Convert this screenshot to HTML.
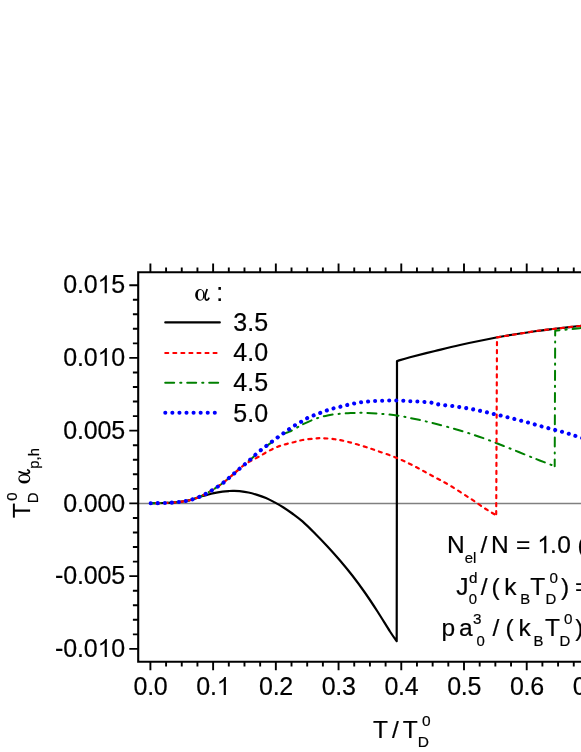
<!DOCTYPE html>
<html><head><meta charset="utf-8"><title>chart</title>
<style>
html,body{margin:0;padding:0;background:#fff;overflow:hidden;}
svg{display:block;will-change:transform;}
text{font-family:"Liberation Sans",sans-serif;fill:#000;stroke:#000;stroke-width:0.2px;}
text.sym{font-family:"Liberation Serif",serif;}
</style></head>
<body>
<svg width="581" height="752" viewBox="0 0 581 752">
<rect x="0" y="0" width="581" height="752" fill="#ffffff"/>
<path d="M138.2 503.5 H600" stroke="#808080" stroke-width="1.35" fill="none"/>
<path d="M150.70 503.30 C152.98 503.25 160.90 503.12 164.40 503.00 C167.90 502.88 169.28 502.77 171.70 502.60 C174.12 502.43 176.55 502.27 178.90 502.00 C181.25 501.73 183.57 501.43 185.80 501.00 C188.03 500.57 190.12 500.05 192.30 499.40 C194.48 498.75 196.75 497.77 198.90 497.10 C201.05 496.43 202.72 496.07 205.20 495.40 C207.68 494.73 210.92 493.73 213.80 493.10 C216.68 492.47 219.92 491.95 222.50 491.60 C225.08 491.25 227.42 491.12 229.30 491.00 C231.18 490.88 232.08 490.87 233.80 490.90 C235.52 490.93 237.17 490.93 239.60 491.20 C242.03 491.47 245.47 491.88 248.40 492.50 C251.33 493.12 254.27 493.98 257.20 494.90 C260.13 495.82 263.08 496.75 266.00 498.00 C268.92 499.25 271.78 500.82 274.70 502.40 C277.62 503.98 280.57 505.65 283.50 507.50 C286.43 509.35 289.13 511.18 292.30 513.50 C295.47 515.82 298.72 518.07 302.50 521.40 C306.28 524.73 310.83 529.32 315.00 533.50 C319.17 537.68 323.33 542.00 327.50 546.50 C331.67 551.00 335.83 555.62 340.00 560.50 C344.17 565.38 348.33 570.38 352.50 575.75 C356.67 581.12 360.83 586.79 365.00 592.75 C369.17 598.71 373.33 605.04 377.50 611.50 C381.67 617.96 386.80 626.55 390.00 631.50 C393.20 636.45 395.58 639.58 396.70 641.20 L397.00 361.00 C399.17 360.38 403.67 358.97 410.00 357.30 C416.33 355.63 426.67 353.05 435.00 351.00 C443.33 348.95 449.58 347.29 460.00 345.00 C470.42 342.71 485.00 339.54 497.50 337.25 C510.00 334.96 525.42 332.67 535.00 331.25 C544.58 329.83 547.58 329.62 555.00 328.75 C562.42 327.88 572.00 326.79 579.50 326.00 C587.00 325.21 596.58 324.33 600.00 324.00" stroke="#000" stroke-width="2.2" fill="none" stroke-linejoin="round"/>
<g stroke="#008000" stroke-width="2" fill="none" stroke-dasharray="9 6 1.2 5.8" stroke-linecap="round" stroke-linejoin="round"><path d="M150.70 503.30 C152.98 503.25 160.90 503.12 164.40 503.00 C167.90 502.88 169.28 502.77 171.70 502.60 C174.12 502.43 176.55 502.27 178.90 502.00 C181.25 501.73 183.57 501.43 185.80 501.00 C188.03 500.57 190.12 500.05 192.30 499.40 C194.48 498.75 196.75 497.98 198.90 497.10 C201.05 496.22 203.13 495.17 205.20 494.10 C207.27 493.03 209.23 491.93 211.30 490.70 C213.37 489.47 215.53 488.08 217.60 486.70 C219.67 485.32 221.73 483.92 223.70 482.40 C225.67 480.88 227.60 479.13 229.40 477.60 C231.20 476.07 232.85 474.63 234.50 473.20 C236.15 471.77 237.63 470.43 239.30 469.00 C240.97 467.57 242.62 466.18 244.50 464.60 C246.38 463.02 247.75 461.97 250.60 459.50 C253.45 457.03 257.90 452.80 261.60 449.80 C265.30 446.80 269.10 444.13 272.80 441.50 C276.50 438.87 281.03 435.63 283.80 434.00 C286.57 432.37 287.25 432.73 289.40 431.70 C291.55 430.67 294.52 429.00 296.70 427.80 C298.88 426.60 299.45 425.97 302.50 424.50 C305.55 423.03 310.83 420.50 315.00 419.00 C319.17 417.50 323.33 416.38 327.50 415.50 C331.67 414.62 335.83 414.17 340.00 413.75 C344.17 413.33 348.75 413.17 352.50 413.00 C356.25 412.83 358.33 412.67 362.50 412.75 C366.67 412.83 371.75 413.04 377.50 413.50 C383.25 413.96 390.75 414.58 397.00 415.50 C403.25 416.42 408.75 417.67 415.00 419.00 C421.25 420.33 427.00 421.58 434.50 423.50 C442.00 425.42 451.58 427.96 460.00 430.50 C468.42 433.04 476.67 435.75 485.00 438.75 C493.33 441.75 501.67 445.19 510.00 448.50 C518.33 451.81 527.55 455.65 535.00 458.60 C542.45 461.55 551.42 464.93 554.70 466.20" stroke-dashoffset="21.14"/><path d="M554.7 466.2 L555.2 330.73 L555.30 330.72 C559.33 330.30 572.05 328.95 579.50 328.20 C586.95 327.45 596.58 326.53 600.00 326.20" stroke-dasharray="9.1 6 1.2 5.9" stroke-dashoffset="2.5"/></g>
<g stroke="#ff0000" stroke-width="2.15" fill="none" stroke-dasharray="3.1 4.95" stroke-linecap="round" stroke-linejoin="round"><path d="M150.70 503.30 C152.98 503.25 160.90 503.12 164.40 503.00 C167.90 502.88 169.28 502.77 171.70 502.60 C174.12 502.43 176.55 502.27 178.90 502.00 C181.25 501.73 183.57 501.43 185.80 501.00 C188.03 500.57 190.12 500.05 192.30 499.40 C194.48 498.75 196.75 497.98 198.90 497.10 C201.05 496.22 203.13 495.17 205.20 494.10 C207.27 493.03 209.23 491.93 211.30 490.70 C213.37 489.47 215.53 488.08 217.60 486.70 C219.67 485.32 221.73 483.92 223.70 482.40 C225.67 480.88 227.60 479.13 229.40 477.60 C231.20 476.07 232.85 474.63 234.50 473.20 C236.15 471.77 237.63 470.43 239.30 469.00 C240.97 467.57 242.62 465.93 244.50 464.60 C246.38 463.27 248.25 462.30 250.60 461.00 C252.95 459.70 255.80 458.35 258.60 456.80 C261.40 455.25 264.47 453.28 267.40 451.70 C270.33 450.12 273.27 448.52 276.20 447.30 C279.13 446.08 282.07 445.25 285.00 444.40 C287.93 443.55 290.88 442.93 293.80 442.20 C296.72 441.47 298.97 440.62 302.50 440.00 C306.03 439.38 311.67 438.79 315.00 438.50 C318.33 438.21 319.17 438.12 322.50 438.25 C325.83 438.38 330.83 438.67 335.00 439.25 C339.17 439.83 342.92 440.62 347.50 441.75 C352.08 442.88 357.50 444.46 362.50 446.00 C367.50 447.54 371.75 449.00 377.50 451.00 C383.25 453.00 390.75 455.42 397.00 458.00 C403.25 460.58 409.08 463.50 415.00 466.50 C420.92 469.50 426.67 472.83 432.50 476.00 C438.33 479.17 443.75 481.78 450.00 485.50 C456.25 489.22 464.03 494.38 470.00 498.30 C475.97 502.22 481.43 506.17 485.80 509.00 C490.17 511.83 494.47 514.25 496.20 515.30" stroke-dashoffset="2.60"/><path d="M496.2 515.3 L497.00 337.35 C503.33 336.34 525.33 332.68 535.00 331.25 C544.67 329.82 547.58 329.62 555.00 328.75 C562.42 327.88 572.00 326.79 579.50 326.00 C587.00 325.21 596.58 324.33 600.00 324.00" stroke-dashoffset="7"/></g>
<path d="M150.70 503.30 C152.98 503.25 160.90 503.12 164.40 503.00 C167.90 502.88 169.28 502.77 171.70 502.60 C174.12 502.43 176.55 502.27 178.90 502.00 C181.25 501.73 183.57 501.43 185.80 501.00 C188.03 500.57 190.12 500.05 192.30 499.40 C194.48 498.75 196.75 497.98 198.90 497.10 C201.05 496.22 203.13 495.17 205.20 494.10 C207.27 493.03 209.23 491.93 211.30 490.70 C213.37 489.47 215.53 488.08 217.60 486.70 C219.67 485.32 221.73 483.92 223.70 482.40 C225.67 480.88 227.60 479.13 229.40 477.60 C231.20 476.07 232.85 474.63 234.50 473.20 C236.15 471.77 237.63 470.43 239.30 469.00 C240.97 467.57 242.62 466.22 244.50 464.60 C246.38 462.98 248.68 461.02 250.60 459.30 C252.52 457.58 254.17 455.93 256.00 454.30 C257.83 452.67 259.75 450.98 261.60 449.50 C263.45 448.02 265.23 446.83 267.10 445.40 C268.97 443.97 270.92 442.33 272.80 440.90 C274.68 439.47 276.57 438.12 278.40 436.80 C280.23 435.48 282.07 434.22 283.80 433.00 C285.53 431.78 286.90 430.80 288.80 429.50 C290.70 428.20 293.12 426.49 295.20 425.20 C297.27 423.91 299.20 422.95 301.25 421.75 C303.30 420.55 305.38 419.08 307.50 418.00 C309.62 416.92 311.92 416.08 314.00 415.25 C316.08 414.42 317.88 413.79 320.00 413.00 C322.12 412.21 324.58 411.25 326.75 410.50 C328.92 409.75 330.79 409.12 333.00 408.50 C335.21 407.88 337.67 407.33 340.00 406.75 C342.33 406.17 344.67 405.54 347.00 405.00 C349.33 404.46 351.62 403.96 354.00 403.50 C356.38 403.04 358.88 402.58 361.25 402.25 C363.62 401.92 365.92 401.71 368.25 401.50 C370.58 401.29 372.88 401.12 375.25 401.00 C377.62 400.88 380.12 400.83 382.50 400.75 C384.88 400.67 387.08 400.54 389.50 400.50 C391.92 400.46 394.58 400.46 397.00 400.50 C399.42 400.54 401.67 400.62 404.00 400.75 C406.33 400.88 408.67 401.12 411.00 401.25 C413.33 401.38 415.67 401.38 418.00 401.50 C420.33 401.62 422.67 401.79 425.00 402.00 C427.33 402.21 429.92 402.38 432.00 402.75 C434.08 403.12 435.42 403.83 437.50 404.25 C439.58 404.67 442.08 404.96 444.50 405.25 C446.92 405.54 449.62 405.71 452.00 406.00 C454.38 406.29 456.50 406.67 458.75 407.00 C461.00 407.33 463.21 407.62 465.50 408.00 C467.79 408.38 470.17 408.79 472.50 409.25 C474.83 409.71 477.17 410.25 479.50 410.75 C481.83 411.25 484.12 411.71 486.50 412.25 C488.88 412.79 491.42 413.46 493.75 414.00 C496.08 414.54 498.21 414.96 500.50 415.50 C502.79 416.04 505.17 416.67 507.50 417.25 C509.83 417.83 512.21 418.42 514.50 419.00 C516.79 419.58 519.00 420.17 521.25 420.75 C523.50 421.33 525.71 421.88 528.00 422.50 C530.29 423.12 532.67 423.83 535.00 424.50 C537.33 425.17 539.71 425.88 542.00 426.50 C544.29 427.12 546.50 427.67 548.75 428.25 C551.00 428.83 553.29 429.42 555.50 430.00 C557.71 430.58 559.79 431.12 562.00 431.75 C564.21 432.38 566.46 433.04 568.75 433.75 C571.04 434.46 572.21 434.88 575.75 436.00 C579.29 437.12 587.62 439.75 590.00 440.50" stroke="#0000ff" stroke-width="4.1" fill="none" stroke-dasharray="0.01 7.04" stroke-linecap="round"/>
<path d="M600 272.2 H138.2 V661.7 H600" stroke="#000" stroke-width="2.1" fill="none" stroke-linejoin="miter"/>
<path d="M150.40 272.20 V263.60 M150.40 661.70 V670.30 M166.08 272.20 V267.60 M166.08 661.70 V666.60 M181.76 272.20 V267.60 M181.76 661.70 V666.60 M197.44 272.20 V267.60 M197.44 661.70 V666.60 M213.12 272.20 V263.60 M213.12 661.70 V670.30 M228.80 272.20 V267.60 M228.80 661.70 V666.60 M244.48 272.20 V267.60 M244.48 661.70 V666.60 M260.16 272.20 V267.60 M260.16 661.70 V666.60 M275.84 272.20 V263.60 M275.84 661.70 V670.30 M291.52 272.20 V267.60 M291.52 661.70 V666.60 M307.20 272.20 V267.60 M307.20 661.70 V666.60 M322.88 272.20 V267.60 M322.88 661.70 V666.60 M338.56 272.20 V263.60 M338.56 661.70 V670.30 M354.24 272.20 V267.60 M354.24 661.70 V666.60 M369.92 272.20 V267.60 M369.92 661.70 V666.60 M385.60 272.20 V267.60 M385.60 661.70 V666.60 M401.28 272.20 V263.60 M401.28 661.70 V670.30 M416.96 272.20 V267.60 M416.96 661.70 V666.60 M432.64 272.20 V267.60 M432.64 661.70 V666.60 M448.32 272.20 V267.60 M448.32 661.70 V666.60 M464.00 272.20 V263.60 M464.00 661.70 V670.30 M479.68 272.20 V267.60 M479.68 661.70 V666.60 M495.36 272.20 V267.60 M495.36 661.70 V666.60 M511.04 272.20 V267.60 M511.04 661.70 V666.60 M526.72 272.20 V263.60 M526.72 661.70 V670.30 M542.40 272.20 V267.60 M542.40 661.70 V666.60 M558.08 272.20 V267.60 M558.08 661.70 V666.60 M573.76 272.20 V267.60 M573.76 661.70 V666.60 M589.44 272.20 V263.60 M589.44 661.70 V670.30 M138.20 648.88 H129.30 M138.20 634.33 H132.90 M138.20 619.78 H132.90 M138.20 605.24 H132.90 M138.20 590.69 H132.90 M138.20 576.14 H129.30 M138.20 561.59 H132.90 M138.20 547.04 H132.90 M138.20 532.50 H132.90 M138.20 517.95 H132.90 M138.20 503.40 H129.30 M138.20 488.85 H132.90 M138.20 474.30 H132.90 M138.20 459.76 H132.90 M138.20 445.21 H132.90 M138.20 430.66 H129.30 M138.20 416.11 H132.90 M138.20 401.56 H132.90 M138.20 387.02 H132.90 M138.20 372.47 H132.90 M138.20 357.92 H129.30 M138.20 343.37 H132.90 M138.20 328.82 H132.90 M138.20 314.28 H132.90 M138.20 299.73 H132.90 M138.20 285.18 H129.30" stroke="#000" stroke-width="1.9" fill="none"/>
<path d="M165.3 322.4 H219.8" stroke="#000" stroke-width="2.2" stroke-linecap="round"/>
<path d="M165.2 352.9 H217" stroke="#ff0000" stroke-width="2" stroke-dasharray="3.1 4.95" stroke-linecap="round"/>
<path d="M165.2 382.7 H220" stroke="#008000" stroke-width="2" stroke-dasharray="9 6 1.2 5.8" stroke-linecap="round"/>
<path d="M165.3 412.8 H216" stroke="#0000ff" stroke-width="4.1" stroke-dasharray="0.01 7.06" stroke-linecap="round"/>
<text x="133.62" y="695.00" font-size="25"  letter-spacing="-0.30">0.0</text>
<text x="196.34" y="695.00" font-size="25"  letter-spacing="-0.30">0.</text><path d="M763 0H583V1147Q518 1085 412.5 1023Q307 961 223 930V1104Q374 1175 487 1276Q600 1377 647 1472H763Z" transform="translate(216.59 695.00) scale(0.01221 -0.01221)" fill="#000"/>
<text x="259.06" y="695.00" font-size="25"  letter-spacing="-0.30">0.2</text>
<text x="321.78" y="695.00" font-size="25"  letter-spacing="-0.30">0.3</text>
<text x="384.50" y="695.00" font-size="25"  letter-spacing="-0.30">0.4</text>
<text x="447.22" y="695.00" font-size="25"  letter-spacing="-0.30">0.5</text>
<text x="509.94" y="695.00" font-size="25"  letter-spacing="-0.30">0.6</text>
<text x="572.66" y="695.00" font-size="25"  letter-spacing="-0.30">0.7</text>
<text x="63.24" y="293.28" font-size="25"  letter-spacing="-0.15">0.0</text><path d="M763 0H583V1147Q518 1085 412.5 1023Q307 961 223 930V1104Q374 1175 487 1276Q600 1377 647 1472H763Z" transform="translate(97.54 293.28) scale(0.01221 -0.01221)" fill="#000"/><text x="111.30" y="293.28" font-size="25"  letter-spacing="-0.15">5</text>
<text x="63.24" y="366.02" font-size="25"  letter-spacing="-0.15">0.0</text><path d="M763 0H583V1147Q518 1085 412.5 1023Q307 961 223 930V1104Q374 1175 487 1276Q600 1377 647 1472H763Z" transform="translate(97.54 366.02) scale(0.01221 -0.01221)" fill="#000"/><text x="111.30" y="366.02" font-size="25"  letter-spacing="-0.15">0</text>
<text x="63.24" y="438.76" font-size="25"  letter-spacing="-0.15">0.005</text>
<text x="63.24" y="511.50" font-size="25"  letter-spacing="-0.15">0.000</text>
<text x="55.06" y="584.24" font-size="25"  letter-spacing="-0.15">-0.005</text>
<text x="55.06" y="656.98" font-size="25"  letter-spacing="-0.15">-0.0</text><path d="M763 0H583V1147Q518 1085 412.5 1023Q307 961 223 930V1104Q374 1175 487 1276Q600 1377 647 1472H763Z" transform="translate(97.54 656.98) scale(0.01221 -0.01221)" fill="#000"/><text x="111.30" y="656.98" font-size="25"  letter-spacing="-0.15">0</text>
<g transform="translate(195.1 301.1)"><path fill-rule="evenodd" d="M0.05 -6.2 A4.8 5.95 0 1 0 9.65 -6.2 A4.8 5.95 0 1 0 0.05 -6.2 Z M2.75 -6.2 A2.65 4.85 0 1 1 8.05 -6.2 A2.65 4.85 0 1 1 2.75 -6.2 Z" fill="#000"/><path d="M12.05 -12.10 C11.88 -11.54 11.32 -9.83 11.00 -8.77 C10.68 -7.71 10.32 -6.62 10.15 -5.74 C9.98 -4.86 9.90 -4.21 10.00 -3.50 C10.10 -2.79 10.42 -1.90 10.75 -1.50 C11.08 -1.10 11.58 -1.03 12.00 -1.10 C12.42 -1.18 12.91 -1.57 13.25 -1.95 C13.59 -2.33 13.92 -3.16 14.05 -3.40" stroke="#000" stroke-width="1.7" fill="none" stroke-linecap="butt"/></g>
<text x="216.30" y="301.10" font-size="25" >:</text>
<text x="233.30" y="331.00" font-size="25" >3.5</text>
<text x="233.30" y="361.20" font-size="25" >4.0</text>
<text x="233.30" y="391.40" font-size="25" >4.5</text>
<text x="233.30" y="421.60" font-size="25" >5.0</text>
<text x="447.10" y="553.30" font-size="24.5" >N</text>
<text x="464.70" y="562.80" font-size="14.9" >el</text>
<text x="480.40" y="553.30" font-size="24.5" >/</text>
<text x="491.00" y="553.30" font-size="24.5" >N</text>
<text x="516.00" y="553.30" font-size="24.5" >=</text>
<path d="M763 0H583V1147Q518 1085 412.5 1023Q307 961 223 930V1104Q374 1175 487 1276Q600 1377 647 1472H763Z" transform="translate(537.20 553.30) scale(0.01196 -0.01196)" fill="#000"/>
<text x="550.10" y="553.30" font-size="24.5" >.</text>
<text x="557.20" y="553.30" font-size="24.5" >0</text>
<text x="577.50" y="553.30" font-size="24.5" >(</text>
<text x="456.20" y="595.00" font-size="24.5" >J</text>
<text x="468.90" y="583.00" font-size="15.2" >d</text>
<text x="468.80" y="604.30" font-size="14.9" >0</text>
<text x="480.70" y="595.00" font-size="24.5" >/</text>
<text x="491.50" y="595.00" font-size="24.5" >(</text>
<text x="504.30" y="595.00" font-size="24.5" >k</text>
<text x="520.20" y="604.30" font-size="14.9" >B</text>
<text x="530.30" y="595.00" font-size="24.5" >T</text>
<text x="549.40" y="583.00" font-size="15.2" >0</text>
<text x="545.40" y="604.30" font-size="14.9" >D</text>
<text x="561.00" y="595.00" font-size="24.5" >)</text>
<text x="575.10" y="595.00" font-size="24.5" >=</text>
<text x="441.60" y="636.40" font-size="24.5" >p</text>
<text x="459.00" y="636.40" font-size="24.5" >a</text>
<text x="473.00" y="624.40" font-size="15.2" >3</text>
<text x="476.60" y="645.70" font-size="14.9" >0</text>
<text x="492.40" y="636.40" font-size="24.5" >/</text>
<text x="505.40" y="636.40" font-size="24.5" >(</text>
<text x="518.60" y="636.40" font-size="24.5" >k</text>
<text x="533.60" y="645.70" font-size="14.9" >B</text>
<text x="544.90" y="636.40" font-size="24.5" >T</text>
<text x="564.00" y="624.40" font-size="15.2" >0</text>
<text x="559.50" y="645.70" font-size="14.9" >D</text>
<text x="575.30" y="636.40" font-size="24.5" >)</text>
<text x="372.90" y="737.70" font-size="24.5" >T</text>
<text x="392.00" y="737.70" font-size="24.5" >/</text>
<text x="402.70" y="737.70" font-size="24.5" >T</text>
<text x="421.90" y="726.40" font-size="15.5" >0</text>
<text x="417.80" y="746.50" font-size="15.5" >D</text>
<g transform="translate(29.5 518) rotate(-90)">
<text x="-0.10" y="0.00" font-size="24.2" >T</text>
<text x="17.20" y="-12.20" font-size="15" >0</text>
<text x="14.70" y="8.90" font-size="15" >D</text>
<g transform="translate(34.4 1.0)"><path fill-rule="evenodd" d="M0.05 -6.2 A4.8 5.95 0 1 0 9.65 -6.2 A4.8 5.95 0 1 0 0.05 -6.2 Z M2.75 -6.2 A2.65 4.85 0 1 1 8.05 -6.2 A2.65 4.85 0 1 1 2.75 -6.2 Z" fill="#000"/><path d="M12.05 -12.10 C11.88 -11.54 11.32 -9.83 11.00 -8.77 C10.68 -7.71 10.32 -6.62 10.15 -5.74 C9.98 -4.86 9.90 -4.21 10.00 -3.50 C10.10 -2.79 10.42 -1.90 10.75 -1.50 C11.08 -1.10 11.58 -1.03 12.00 -1.10 C12.42 -1.18 12.91 -1.57 13.25 -1.95 C13.59 -2.33 13.92 -3.16 14.05 -3.40" stroke="#000" stroke-width="1.7" fill="none" stroke-linecap="butt"/></g>
<text x="49.30" y="9.20" font-size="14.8" >p,h</text>
</g>
</svg>
</body></html>
